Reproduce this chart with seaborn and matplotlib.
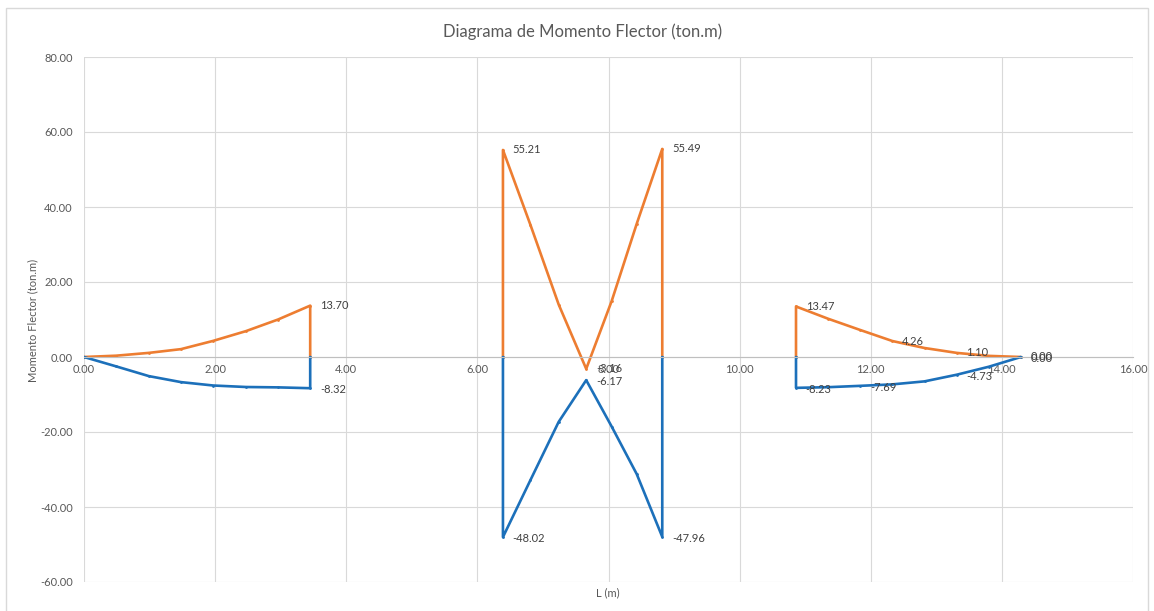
import matplotlib
matplotlib.use("Agg")
import matplotlib.pyplot as plt
from matplotlib.patches import Rectangle
import pandas as pd
import seaborn as sns

# Abscisas (m) y momentos (ton.m) por tramo
x_izq = [0.00, 0.49, 0.99, 1.48, 1.97, 2.47, 2.96, 3.45]
m_pos_izq = [0.00, 0.35, 1.10, 2.10, 4.30, 6.90, 10.00, 13.70]
m_neg_izq = [0.00, -2.50, -5.10, -6.70, -7.60, -8.00, -8.10, -8.32]

x_cen = [6.39, 6.81, 7.24, 7.66, 8.05, 8.43, 8.82]
m_pos_cen = [55.21, 35.20, 14.00, -3.16, 15.00, 35.50, 55.49]
m_neg_cen = [-48.02, -32.80, -17.30, -6.17, -18.60, -31.20, -47.96]

x_der = [10.86, 11.35, 11.84, 12.33, 12.82, 13.31, 13.80, 14.29]
m_pos_der = [13.47, 10.20, 7.20, 4.26, 2.40, 1.10, 0.30, 0.00]
m_neg_der = [-8.23, -8.05, -7.69, -7.30, -6.50, -4.73, -2.60, 0.00]

# Puntos con etiqueta de valor (indices dentro de cada tramo)
etq_pos = {"izq": [7], "cen": [0, 3, 6], "der": [0, 3, 5, 7]}
etq_neg = {"izq": [7], "cen": [0, 3, 6], "der": [0, 2, 5, 7]}

x_ticks = [0, 2, 4, 6, 8, 10, 12, 14, 16]
y_ticks = [-60, -40, -20, 0, 20, 40, 60, 80]

COL_POS = "#ED7D31"
COL_NEG = "#1C70BA"
GRID = "#D9D9D9"
TXT = "#595959"

tramos = {
    "izq": (x_izq, m_pos_izq, m_neg_izq, False, True),
    "cen": (x_cen, m_pos_cen, m_neg_cen, True, True),
    "der": (x_der, m_pos_der, m_neg_der, True, False),
}

rows = []
for nombre, (xs, mp, mn, cierre_ini, cierre_fin) in tramos.items():
    for signo, ms in (("pos", mp), ("neg", mn)):
        pts = list(zip(xs, ms))
        if cierre_ini:
            pts = [(xs[0], 0.0)] + pts
        if cierre_fin:
            pts = pts + [(xs[-1], 0.0)]
        for orden, (xv, mv) in enumerate(pts):
            rows.append({"x": xv, "M": mv, "serie": f"{nombre}-{signo}",
                         "signo": signo, "orden": orden})
df = pd.DataFrame(rows)

sns.set_style("white")
plt.rcParams["font.family"] = ["Lato", "DejaVu Sans"]

fig = plt.figure(figsize=(11.54, 6.11), dpi=100)
ax = fig.add_axes([84 / 1154, 1 - 582 / 611, (1133 - 84) / 1154, (582 - 57) / 611])

sns.lineplot(data=df, x="x", y="M", hue="signo", units="serie",
             estimator=None, sort=False, ax=ax, legend=False,
             palette={"pos": COL_POS, "neg": COL_NEG},
             linewidth=1.9, marker="o", markersize=2, markeredgewidth=0)

# Etiquetas de valor
for nombre, (xs, mp, mn, _, _) in tramos.items():
    for idx in etq_pos[nombre]:
        ax.annotate(f"{mp[idx]:.2f}", (xs[idx], mp[idx]), xytext=(7, 0),
                    textcoords="offset points", va="center", ha="left",
                    fontsize=8, color="#404040")
    for idx in etq_neg[nombre]:
        ax.annotate(f"{mn[idx]:.2f}", (xs[idx], mn[idx]), xytext=(7, -1),
                    textcoords="offset points", va="center", ha="left",
                    fontsize=8, color="#404040")

ax.set_xlim(0, 16)
ax.set_ylim(-60, 80)
ax.set_xticks(x_ticks)
ax.set_yticks(y_ticks)
ax.set_xticklabels([f"{v:.2f}" for v in x_ticks])
ax.set_yticklabels([f"{v:.2f}" for v in y_ticks])
ax.grid(True, color=GRID, linewidth=0.8)
ax.set_axisbelow(True)
for s in ("left", "right", "top"):
    ax.spines[s].set_visible(False)
ax.spines["bottom"].set_position(("data", 0))
ax.spines["bottom"].set_color("#BFBFBF")
ax.spines["bottom"].set_linewidth(0.8)
ax.tick_params(axis="x", length=0, pad=5, labelsize=8, labelcolor=TXT)
ax.tick_params(axis="y", length=0, pad=8, labelsize=8, labelcolor=TXT)

ax.set_xlabel("")
ax.set_ylabel("")
fig.text(608 / 1154, 1 - 593 / 611, "L (m)", ha="center", va="center",
         fontsize=8, color=TXT)
fig.text(33 / 1154, 1 - 320 / 611, "Momento Flector (ton.m)", ha="center",
         va="center", rotation=90, fontsize=8, color=TXT)
fig.text(583 / 1154, 1 - 32 / 611, "Diagrama de Momento Flector (ton.m)",
         ha="center", va="center", fontsize=12, color=TXT)

fig.patches.append(Rectangle((6 / 1154, -0.02), (1148 - 6) / 1154,
                             1 - 8 / 611 + 0.02, transform=fig.transFigure,
                             fill=False, edgecolor=GRID, linewidth=1))

fig.savefig("out.png", dpi=100)
